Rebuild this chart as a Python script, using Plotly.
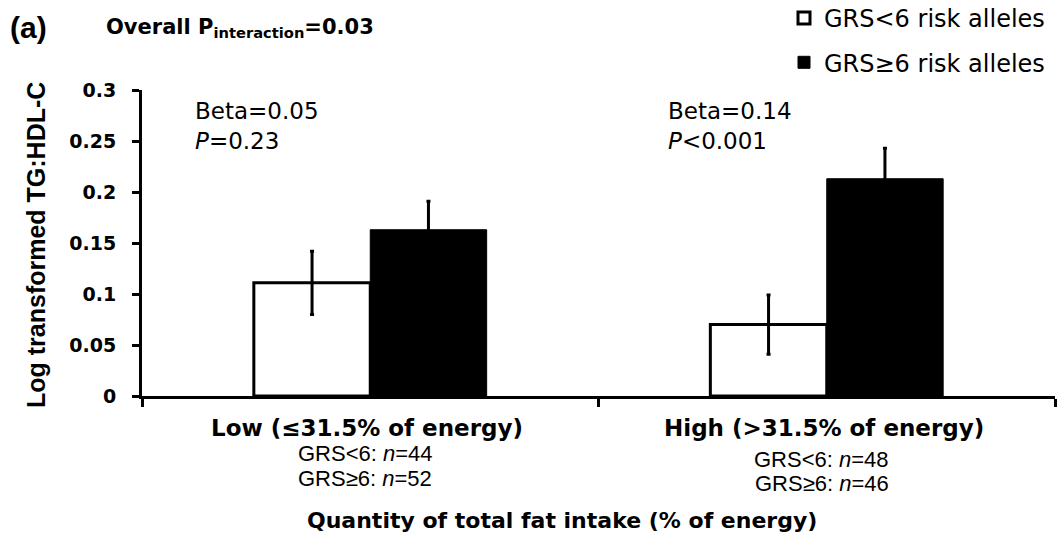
import plotly.graph_objects as go

# Fat-intake strata and GRS group results
categories = ["Low", "High"]
low_grs_means = [0.111, 0.070]
low_grs_se = [0.031, 0.029]
high_grs_means = [0.163, 0.213]
high_grs_se = [0.028, 0.030]

category_titles = ["Low (≤31.5% of energy)", "High (&gt;31.5% of energy)"]
n_low_grs = [44, 48]
n_high_grs = [52, 46]
beta_values = ["0.05", "0.14"]
p_values = ["=0.23", "&lt;0.001"]

WIDE = "DejaVu Sans"
ARIAL = "Liberation Sans"

W, H = 1057, 536
L, R, T, B = 142, 2, 90, 140
PW, PH = W - L - R, H - T - B


def px(x, y):
    """Pixel position -> paper coordinates."""
    return (x - L) / PW, (H - B - y) / PH


fig = go.Figure()
fig.add_trace(go.Bar(
    x=categories, y=low_grs_means, name="GRS&lt;6 risk alleles",
    marker=dict(color="white", line=dict(color="black", width=3)),
    error_y=dict(type="data", array=low_grs_se, color="black", thickness=3, width=2),
    legendgroup="a",
))
fig.add_trace(go.Bar(
    x=categories, y=high_grs_means, name="GRS≥6 risk alleles",
    marker=dict(color="black", line=dict(color="black", width=1)),
    error_y=dict(type="data", array=high_grs_se, color="black", thickness=3, width=2),
    legendgroup="b",
))

annotations = []
# Category labels and group sizes under the axis
sub_rows = [(453, 478), (459, 484)]
for i, cat in enumerate(categories):
    _, y0 = px(0, 428)
    annotations.append(dict(
        x=cat, xref="x", y=y0, yref="paper", xshift=-3, text=category_titles[i],
        showarrow=False, font=dict(family=WIDE, size=23, color="black", weight="bold"),
        xanchor="center", yanchor="middle"))
    _, y1 = px(0, sub_rows[i][0])
    _, y2 = px(0, sub_rows[i][1])
    annotations.append(dict(
        x=cat, xref="x", y=y1, yref="paper", xshift=-5,
        text=f"GRS&lt;6: <i>n</i>={n_low_grs[i]}",
        showarrow=False, font=dict(family=ARIAL, size=22, color="black"),
        xanchor="center", yanchor="middle"))
    annotations.append(dict(
        x=cat, xref="x", y=y2, yref="paper", xshift=-5,
        text=f"GRS≥6: <i>n</i>={n_high_grs[i]}",
        showarrow=False, font=dict(family=ARIAL, size=22, color="black"),
        xanchor="center", yanchor="middle"))

# Beta and P for each stratum
for xpix, beta, p in zip([193, 666], beta_values, p_values):
    bx, by = px(xpix, 96)
    annotations.append(dict(
        x=bx, xref="paper", y=by, yref="paper",
        text=f"Beta={beta}<br><i>P</i>{p}",
        showarrow=False, align="left",
        font=dict(family=WIDE, size=23, color="black"),
        xanchor="left", yanchor="top"))

tx, ty = px(562, 520)
yx, yy = px(36, 245)
ax_, ay_ = px(8, 27)
ox, oy = px(104, 28)
annotations += [
    dict(x=tx, xref="paper", y=ty, yref="paper",
         text="Quantity of total fat intake (% of energy)", showarrow=False,
         font=dict(family=WIDE, size=22, color="black", weight="bold"),
         xanchor="center", yanchor="middle"),
    dict(x=yx, xref="paper", y=yy, yref="paper", textangle=-90,
         text="Log transformed TG:HDL-C", showarrow=False,
         font=dict(family=ARIAL, size=25, color="black", weight="bold"),
         xanchor="center", yanchor="middle"),
    dict(x=ax_, xref="paper", y=ay_, yref="paper", text="(a)", showarrow=False,
         font=dict(family=ARIAL, size=30, color="black", weight="bold"),
         xanchor="left", yanchor="middle"),
    dict(x=ox, xref="paper", y=oy, yref="paper",
         text="Overall P<sub>interaction</sub>=0.03", showarrow=False,
         font=dict(family=WIDE, size=21, color="black", weight="bold"),
         xanchor="left", yanchor="middle"),
]

lx, ly = px(784, -4)
fig.update_layout(
    width=W, height=H,
    margin=dict(l=L, r=R, t=T, b=B, autoexpand=False),
    plot_bgcolor="white", paper_bgcolor="white",
    barmode="group", bargap=0.49, bargroupgap=0,
    font=dict(family=WIDE, color="black"),
    annotations=annotations,
    legend=dict(x=lx, y=ly, xref="paper", yref="paper",
                xanchor="left", yanchor="top",
                font=dict(family=WIDE, size=24, color="black"),
                tracegroupgap=10, bgcolor="rgba(0,0,0,0)"),
    showlegend=True,
)
fig.update_xaxes(
    showline=True, linecolor="black", linewidth=3,
    ticks="outside", tickson="boundaries", ticklen=8, tickwidth=3, tickcolor="black",
    showticklabels=False, showgrid=False, zeroline=False,
)
fig.update_yaxes(
    range=[0, 0.3], dtick=0.05, showline=True, linecolor="black", linewidth=3,
    ticks="outside", ticklen=7, tickwidth=3, tickcolor="black",
    tickfont=dict(family=WIDE, size=19, color="black", weight="bold"),
    showgrid=False, zeroline=False, ticklabelstandoff=12,
)

fig.write_html("out.html")
